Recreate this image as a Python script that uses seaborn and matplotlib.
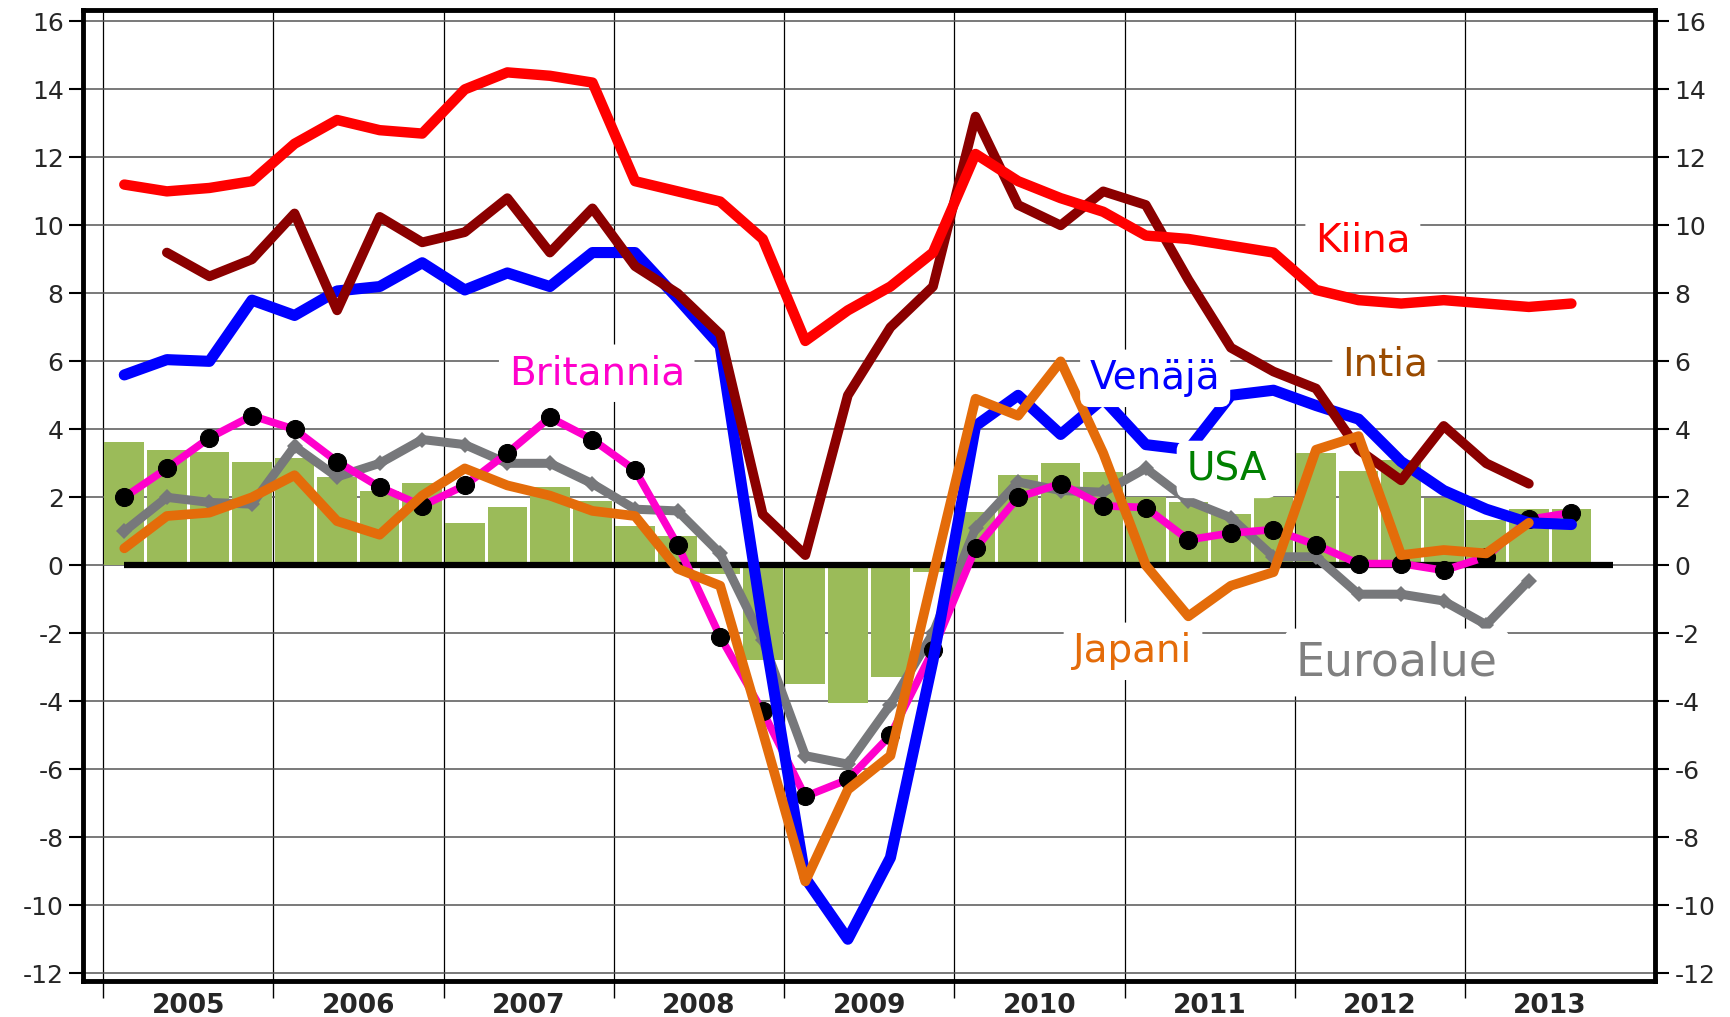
import numpy as np
import pandas as pd
import matplotlib
matplotlib.use("Agg")
import matplotlib.pyplot as plt
import seaborn as sns

# neljännekset 2005Q1 ... 2013Q3
quarters = [f"{y}Q{q}" for y in range(2005, 2014) for q in range(1, 5)][:35]
years = [str(y) for y in range(2005, 2014)]

kiina = [11.2, 11.0, 11.1, 11.3, 12.4, 13.1, 12.8, 12.7, 14.0, 14.5, 14.4, 14.2,
         11.3, 11.0, 10.7, 9.6, 6.6, 7.5, 8.2, 9.2, 12.1, 11.3, 10.8, 10.4,
         9.7, 9.6, 9.4, 9.2, 8.1, 7.8, 7.7, 7.8, 7.7, 7.6, 7.7]
intia = [np.nan, 9.2, 8.5, 9.0, 10.35, 7.5, 10.25, 9.5, 9.8, 10.8, 9.2, 10.5,
         8.8, 8.0, 6.8, 1.5, 0.3, 5.0, 7.0, 8.2, 13.2, 10.6, 10.0, 11.0,
         10.6, 8.4, 6.4, 5.7, 5.2, 3.4, 2.5, 4.1, 3.0, 2.4, np.nan]
venaja = [5.6, 6.05, 6.0, 7.8, 7.35, 8.07, 8.2, 8.9, 8.1, 8.6, 8.2, 9.2,
          9.2, 7.85, 6.45, -1.7, -9.2, -11.0, -8.6, -2.8, 4.1, 5.0, 3.85, 4.9,
          3.55, 3.4, 5.0, 5.15, 4.7, 4.3, 3.05, 2.2, 1.65, 1.25, 1.2]
britannia = [2.0, 2.85, 3.75, 4.4, 4.0, 3.05, 2.3, 1.75, 2.35, 3.3, 4.35, 3.7,
             2.8, 0.6, -2.1, -4.3, -6.8, -6.3, -5.0, -2.5, 0.5, 2.0, 2.4, 1.75,
             1.7, 0.75, 0.95, 1.05, 0.6, 0.05, 0.05, -0.15, 0.25, 1.35, 1.55]
euroalue = [1.0, 2.0, 1.85, 1.8, 3.5, 2.6, 3.0, 3.7, 3.55, 3.0, 3.0, 2.4,
            1.65, 1.6, 0.35, -2.2, -5.6, -5.85, -4.1, -2.0, 1.1, 2.45, 2.2, 2.15,
            2.85, 1.9, 1.4, 0.25, 0.25, -0.85, -0.85, -1.05, -1.75, -0.45, np.nan]
japani = [0.5, 1.45, 1.55, 2.0, 2.65, 1.3, 0.9, 2.05, 2.85, 2.35, 2.05, 1.6,
          1.45, -0.1, -0.6, -4.9, -9.3, -6.6, -5.6, -0.3, 4.9, 4.4, 6.0, 3.3,
          0.0, -1.5, -0.6, -0.2, 3.4, 3.8, 0.3, 0.45, 0.35, 1.25, np.nan]
usa = [3.62, 3.38, 3.33, 3.03, 3.15, 2.6, 2.2, 2.42, 1.25, 1.72, 2.3, 1.88,
       1.15, 0.86, -0.27, -2.8, -3.5, -4.05, -3.3, -0.2, 1.57, 2.65, 3.0, 2.75,
       2.0, 1.85, 1.5, 2.0, 3.3, 2.77, 3.1, 1.98, 1.33, 1.65, 1.65]

sns.set_theme(style="white")
plt.rcParams['font.family'] = ['DejaVu Sans']

# x = vuosia vuoden 2005 alusta, piste neljänneksen keskellä
xpos = [(i + 0.5) / 4 for i in range(len(quarters))]
df = pd.DataFrame({"x": xpos, "Kiina": kiina, "Intia": intia, "Venäjä": venaja,
                   "Britannia": britannia, "Euroalue": euroalue,
                   "Japani": japani, "USA": usa})

fig = plt.figure(figsize=(17.31, 10.17), dpi=100)
ax = fig.add_axes([0.048, 0.035, 0.908, 0.955])

# USA pylväät
sns.barplot(data=df, x="x", y="USA", native_scale=True, width=0.93,
            color="#9BBB59", saturation=1, linewidth=0, ax=ax, zorder=1)

ax.hlines(0, xpos[0], 8.87, color="black", lw=4.5, zorder=2)

sns.lineplot(data=df, x="x", y="Euroalue", color="#77787B", lw=6.5,
             marker="D", markersize=8, markeredgewidth=0, ax=ax, zorder=3)
sns.lineplot(data=df, x="x", y="Britannia", color="#FF00CC", lw=5.5,
             marker="o", markersize=13, markerfacecolor="black",
             markeredgecolor="black", ax=ax, zorder=4)
sns.lineplot(data=df, x="x", y="Venäjä", color="#0000FF", lw=8, ax=ax, zorder=5)
sns.lineplot(data=df, x="x", y="Intia", color="#8B0000", lw=7, ax=ax, zorder=6)
sns.lineplot(data=df, x="x", y="Kiina", color="#FF0000", lw=7.5, ax=ax, zorder=7)
sns.lineplot(data=df, x="x", y="Japani", color="#E46C0A", lw=7, ax=ax, zorder=8)

# sarjojen nimet
box = dict(boxstyle="round,pad=0.25", fc="white", ec="none")
labels = [
    ("Kiina", 7.40, 9.55, "#FF0000", 28),
    ("Intia", 7.53, 5.9, "#9A4B00", 28),
    ("Venäjä", 6.18, 5.5, "#0000FF", 28),
    ("USA", 6.60, 2.82, "#008000", 28),
    ("Britannia", 2.90, 5.65, "#FF00CC", 28),
    ("Japani", 6.05, -2.53, "#E46C0A", 28),
    ("Euroalue", 7.60, -2.86, "#808080", 33),
]
for txt, lx, ly, col, fs in labels:
    ax.text(lx, ly, txt, color=col, fontsize=fs, ha="center", va="center",
            bbox=box, zorder=10)

ax.set_xlim(-0.117, 9.115)
ax.set_ylim(-12.24, 16.33)
ax.set_xlabel("")
ax.set_ylabel("")

ax.set_yticks(range(-12, 17, 2))
ax.set_yticklabels([str(v) for v in range(-12, 17, 2)])
ax.set_xticks(range(0, 9))
ax.set_xticklabels([])
ax.set_xticks([k + 0.5 for k in range(9)], minor=True)
ax.set_xticklabels(years, minor=True, fontsize=19, fontweight="bold")

ax.set_axisbelow(True)
ax.yaxis.grid(True, color="#555555", lw=1.1)
ax.xaxis.grid(True, which="major", color="black", lw=0.9)
ax.tick_params(axis="y", which="both", left=True, right=True, labelleft=True,
               labelright=True, length=10, width=1.5, direction="out",
               labelsize=18, color="black", pad=4)
ax.tick_params(axis="x", which="major", bottom=True, length=12, width=1,
               direction="out", color="black")
ax.tick_params(axis="x", which="minor", bottom=True, length=0, pad=8)

for s in ax.spines.values():
    s.set_visible(True)
    s.set_color("black")
    s.set_linewidth(3.5)

plt.savefig("out.png", dpi=100)
